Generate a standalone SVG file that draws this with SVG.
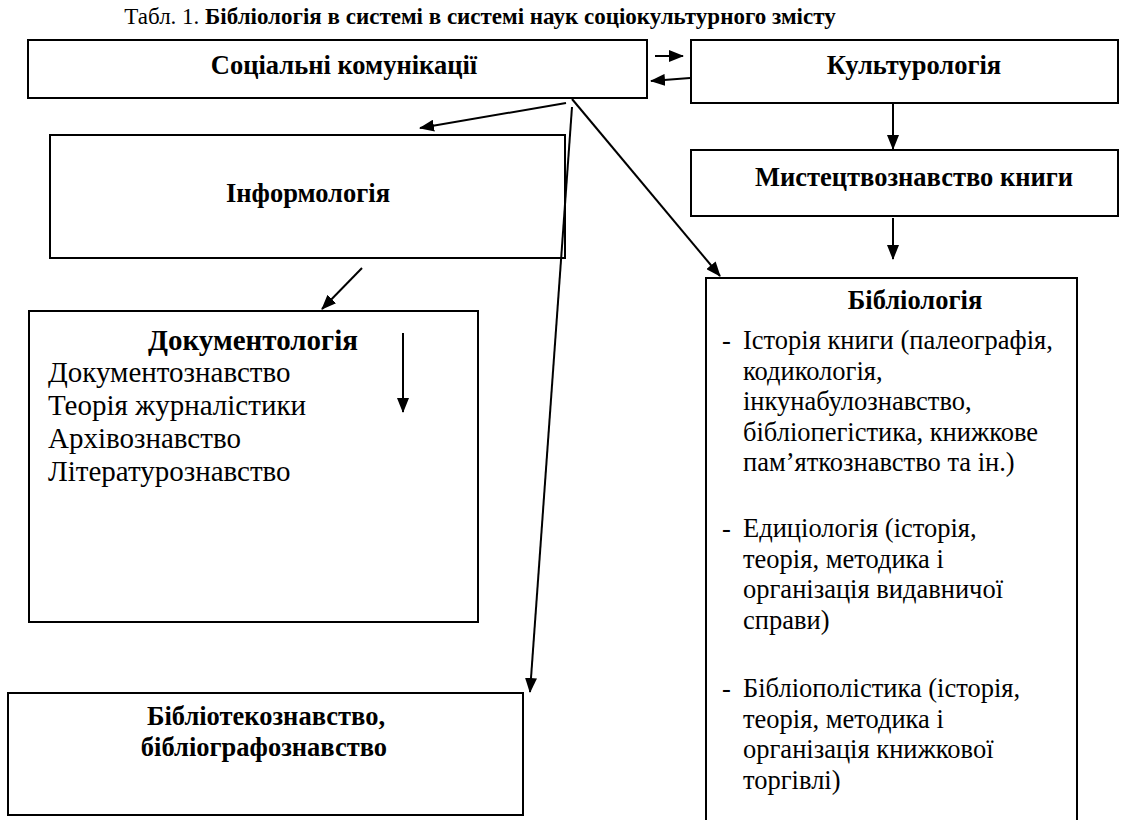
<svg xmlns="http://www.w3.org/2000/svg" width="1135" height="820" viewBox="0 0 1135 820">
<style>
.box{fill:#fff;stroke:#000;stroke-width:2}
text{font-family:'Liberation Serif','Times New Roman',serif;fill:#000}
.b{font-weight:bold}
.lbl{font-size:26.5px;font-weight:bold;text-anchor:middle}
.body{font-size:26.5px}
.doc{font-size:29px}
.ln{stroke:#000;stroke-width:2;fill:none;marker-end:url(#ah)}
</style>
<defs>
<marker id="ah" viewBox="0 0 15 12" refX="14" refY="6" markerWidth="15" markerHeight="12" markerUnits="userSpaceOnUse" orient="auto">
<path d="M0,0 L15,6 L0,12 z" fill="#000"/>
</marker>
</defs>
<rect width="1135" height="820" fill="#fff"/>
<text x="480" y="24" text-anchor="middle" font-size="23">Табл. 1. <tspan class="b">Бібліологія в системі в системі наук соціокультурного змісту</tspan></text>

<g id="node-social">
<rect class="box" x="28" y="40" width="619" height="58"/>
<text class="lbl" x="344" y="74">Соціальні комунікації</text>
</g>
<g id="node-culture">
<rect class="box" x="691" y="40" width="427" height="63"/>
<text class="lbl" x="914" y="74">Культурологія</text>
</g>
<g id="node-art">
<rect class="box" x="691" y="150" width="427" height="66"/>
<text class="lbl" x="914" y="186">Мистецтвознавство книги</text>
</g>
<g id="node-inform">
<rect class="box" x="50" y="135" width="515" height="123"/>
<text class="lbl" x="308" y="202">Інформологія</text>
</g>
<g id="node-doc">
<rect class="box" x="29" y="311" width="449" height="311"/>
<text class="doc b" x="253" y="350" text-anchor="middle">Документологія</text>
<text class="doc" x="48" y="382">Документознавство</text>
<text class="doc" x="48" y="415">Теорія журналістики</text>
<text class="doc" x="48" y="448">Архівознавство</text>
<text class="doc" x="48" y="481">Літературознавство</text>
</g>
<g id="node-library">
<rect class="box" x="8" y="693" width="515" height="122"/>
<text class="lbl" x="266" y="725">Бібліотекознавство,</text>
<text class="lbl" x="264" y="756">бібліографознавство</text>
</g>
<g id="node-biblio">
<rect class="box" x="706" y="278" width="371" height="560"/>
<text class="lbl" x="915" y="309">Бібліологія</text>
<text class="body" x="722" y="349">-</text>
<text class="body" x="743" y="349">Історія книги (палеографія,</text>
<text class="body" x="743" y="380">кодикологія,</text>
<text class="body" x="743" y="410">інкунабулознавство,</text>
<text class="body" x="743" y="441">бібліопегістика, книжкове</text>
<text class="body" x="743" y="471">пам’яткознавство та ін.)</text>
<text class="body" x="722" y="537">-</text>
<text class="body" x="743" y="537">Едиціологія (історія,</text>
<text class="body" x="743" y="568">теорія, методика і</text>
<text class="body" x="743" y="598">організація видавничої</text>
<text class="body" x="743" y="629">справи)</text>
<text class="body" x="722" y="697">-</text>
<text class="body" x="743" y="697">Бібліополістика (історія,</text>
<text class="body" x="743" y="728">теорія, методика і</text>
<text class="body" x="743" y="758">організація книжкової</text>
<text class="body" x="743" y="789">торгівлі)</text>
</g>

<g id="connectors">
<line class="ln" x1="655" y1="56" x2="683" y2="56"/>
<line class="ln" x1="690" y1="78" x2="651" y2="81"/>
<line class="ln" x1="893" y1="103" x2="893" y2="149"/>
<line class="ln" x1="893" y1="218" x2="893" y2="259"/>
<line class="ln" x1="566" y1="103" x2="420" y2="128"/>
<line class="ln" x1="572" y1="99" x2="720" y2="276"/>
<line class="ln" x1="572" y1="107" x2="530" y2="692"/>
<line class="ln" x1="362" y1="268" x2="322" y2="309"/>
<line class="ln" x1="403" y1="333" x2="403" y2="412"/>
</g>
</svg>
